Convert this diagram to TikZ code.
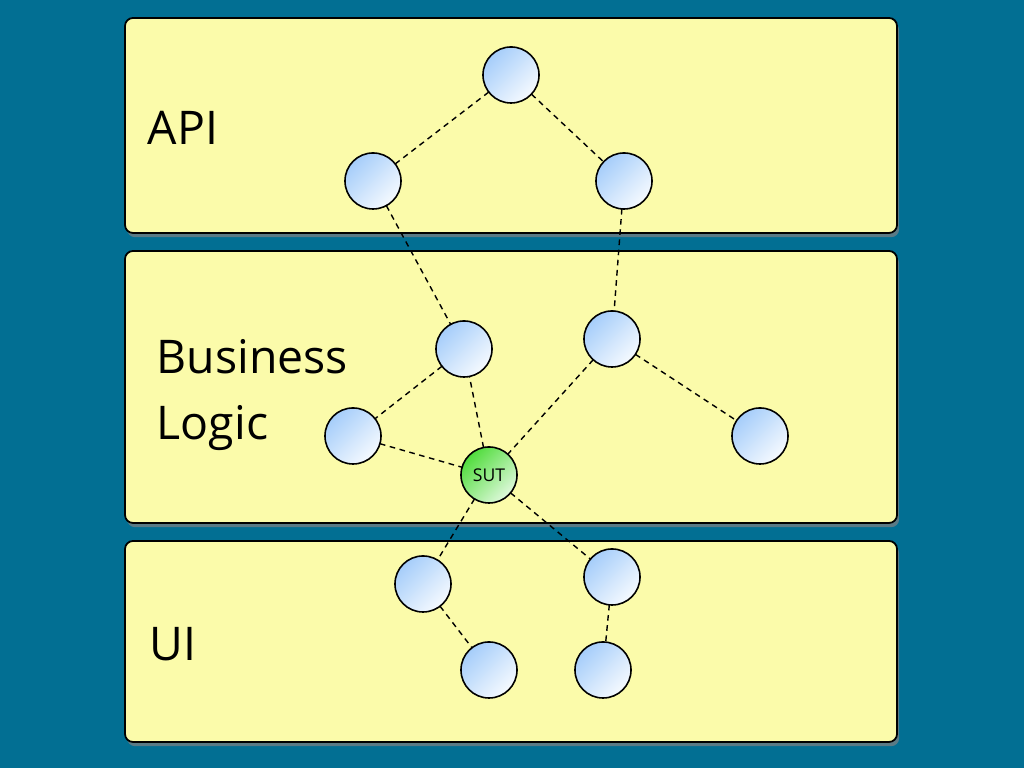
\documentclass[tikz,border=0pt]{standalone}
\usepackage{fontspec}
\setmainfont{Open Sans}
\usepackage{tikz}
\usepackage{tkz-graph}
\usepackage{xcolor}
\usetikzlibrary{shadows}

\definecolor{seablue}{RGB}{2,111,147}
\definecolor{layeryellow}{RGB}{251,251,170}
\definecolor{vertexblue}{RGB}{165,205,250}
\definecolor{vertexgreen}{RGB}{80,220,60}

\begin{document}
\begin{tikzpicture}[x=0.01cm,y=-0.01cm,
	layer/.style={draw=black, line width=0.5pt, fill=layeryellow,
		rounded corners=0.08cm,
		drop shadow={shadow xshift=0.6pt, shadow yshift=-1.2pt, opacity=0.7}},
	layertext/.style={anchor=west, inner sep=0pt, align=left,
		font=\fontsize{13.2}{18.8}\selectfont}]
		 %\draw[help lines] (0,0) grid (1024,768);
		 \fill[seablue] (0,0) rectangle (1024,768);
		 \useasboundingbox (0,0) rectangle (1024,768);
		 
		 \tikzset{
		 VertexStyle/.style = {shape=circle, draw=black, line width=0.45pt,
		 	minimum size=0.56cm, inner sep=0pt,
		 	top color=vertexblue, bottom color=white!90!vertexblue,
		 	shading angle=45, font=\fontsize{5}{6}\selectfont},
		 EdgeStyle/.style = {dashed, dash pattern=on 1.6pt off 1.3pt,
		 	line width=0.4pt, color=black}}
		 
		 % layers
		 \draw[layer] (125,18) rectangle (897,233);
		 \draw[layer] (125,251) rectangle (897,523);
		 \draw[layer] (125,541) rectangle (897,742);
		 
		 \node[layertext] (api) at (147,128) {API};
		 \node[layertext] (logic) at (156,395) {Business\\Logic};
		 \node[layertext] (ui) at (149,644) {UI};
		 
		 % API
		 \Vertex[x=511,y=75,L=$ $]{a1}
		 \Vertex[x=373,y=181,L=$ $]{a2}
		 \Vertex[x=624,y=181,L=$ $]{a3}
		 
		 % business logic
		 \Vertex[x=464,y=349,L=$ $]{b1}
		 \Vertex[x=612,y=339,L=$ $]{b2}
		 \Vertex[x=353,y=436,L=$ $]{b3}
		 \Vertex[x=760,y=436,L=$ $]{b4}
		 \begin{scope}[VertexStyle/.append style={top color=vertexgreen,
		 	bottom color=white!82!vertexgreen, shading angle=45}]
		 \Vertex[x=489,y=475,L=SUT]{sut}
		 \end{scope}
		 
		 % UI
		 \Vertex[x=423,y=584,L=$ $]{u1}
		 \Vertex[x=612,y=577,L=$ $]{u2}
		 \Vertex[x=489,y=670,L=$ $]{u3}
		 \Vertex[x=603,y=670,L=$ $]{u4}
		 
		 \Edges(a2,a1,a3)
		 \Edges(a2,b1,b3,sut,b1)
		 \Edges(a3,b2,b4)
		 \Edges(b2,sut,u1,u3)
		 \Edges(sut,u2,u4)
		 \end{tikzpicture}
\end{document}
